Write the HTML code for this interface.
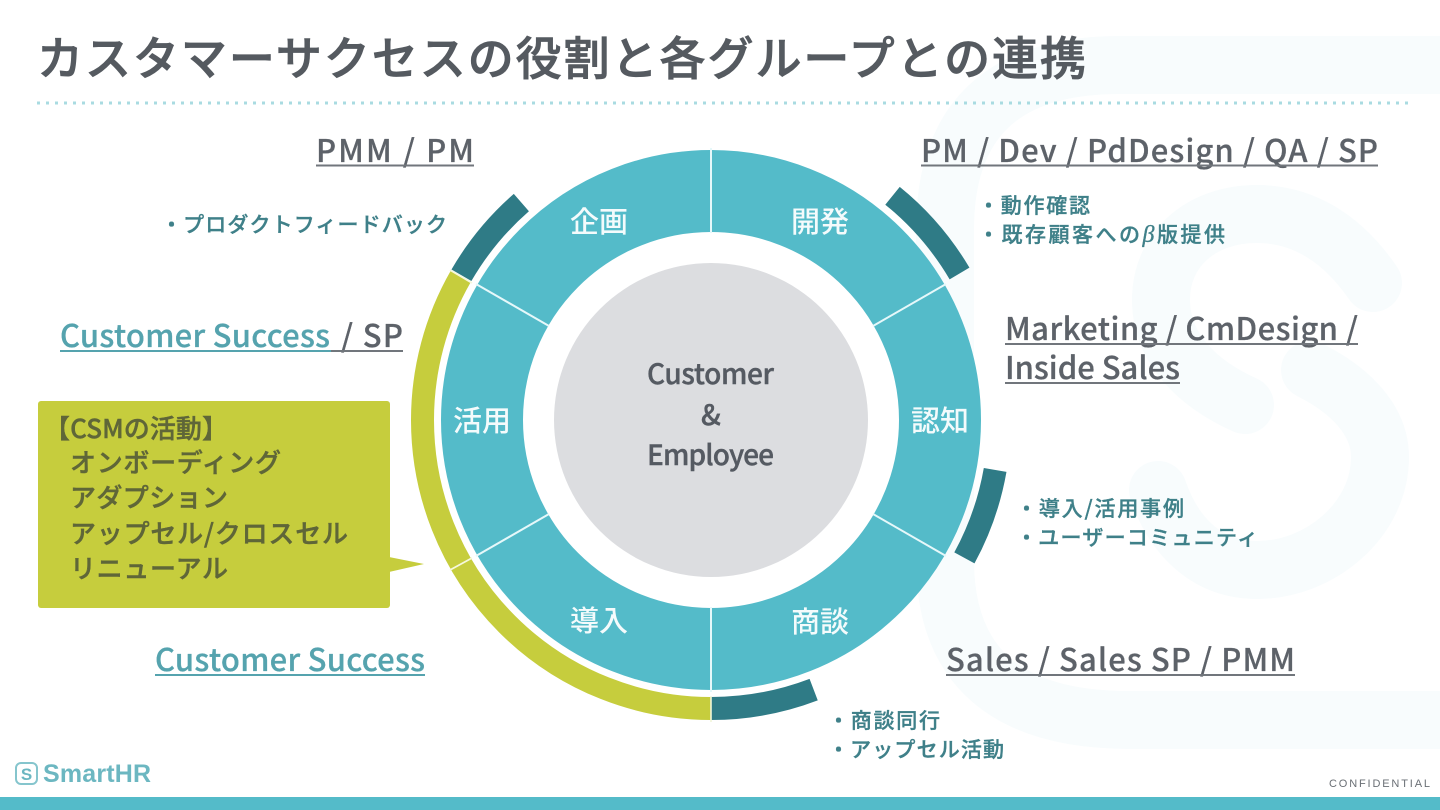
<!DOCTYPE html>
<html lang="ja"><head><meta charset="utf-8"><title>カスタマーサクセスの役割と各グループとの連携</title>
<style>
html,body{margin:0;padding:0;background:#fff;width:1440px;height:810px;overflow:hidden}
svg{display:block;filter:blur(.3px)}
text{font-family:"Liberation Sans","Noto Sans CJK JP",sans-serif}
.j{font-family:"Noto Sans CJK JP","Liberation Sans",sans-serif}
.h{font-family:"Noto Sans CJK JP","Liberation Sans",sans-serif;font-size:31px;font-weight:500;fill:#5d6269;stroke:#5d6269;stroke-width:.25px}
.s{font-family:"Noto Sans CJK JP","Liberation Sans",sans-serif;font-size:21px;font-weight:500;fill:#3f8089;stroke:#3f8089;stroke-width:.35px}
.w{font-family:"Noto Sans CJK JP",sans-serif;font-size:29px;font-weight:500;fill:#f4fbfc;text-anchor:middle}
.m{font-family:"Noto Sans CJK JP","Liberation Sans",sans-serif;font-size:28px;font-weight:500;fill:#555a62;stroke:#555a62;stroke-width:.4px}
.b{font-family:"Noto Sans CJK JP","Liberation Sans",sans-serif;font-size:26px;font-weight:500;fill:#5f6638;stroke:#5f6638;stroke-width:.45px}
</style></head><body>
<svg xmlns="http://www.w3.org/2000/svg" width="1440" height="810" viewBox="0 0 1440 810">
<rect width="1440" height="810" fill="#fff"/>
<!-- watermark -->
<g fill="none" stroke="#f8fcfd" stroke-linecap="round" stroke-linejoin="round">
<path d="M1480 65 H1120 Q945 65 945 230 V560 Q945 720 1130 720 H1480" stroke-width="58"/>
<path d="M1373 283 C1340 235 1300 214 1257 214 C1200 214 1161 250 1161 300 C1161 350 1200 385 1245 405" stroke-width="58"/>
<path d="M1310 370 C1350 390 1380 420 1380 457 C1380 520 1320 570 1257 570 C1210 570 1175 540 1158 490" stroke-width="58"/>
</g>
<!-- title -->
<text class="j" x="37" y="75" font-size="46" font-weight="500" fill="#555a60" stroke="#555a60" stroke-width=".8" textLength="1049" lengthAdjust="spacing">カスタマーサクセスの役割と各グループとの連携</text>
<line x1="37" y1="103" x2="1410" y2="103" stroke="#a9dbe1" stroke-width="3" stroke-dasharray="3 6"/>
<!-- diagram -->
<circle cx="711" cy="420" r="229" fill="none" stroke="#54bbc9" stroke-width="82"/>
<circle cx="711" cy="420" r="157" fill="#dcdde0"/>
<g stroke="#e6f8fa" stroke-width="2">
<line x1="711" y1="148" x2="711" y2="233"/>
<line x1="711" y1="607" x2="711" y2="692"/>
<line x1="476" y1="284" x2="549" y2="326"/>
<line x1="946" y1="284" x2="873" y2="326"/>
<line x1="476" y1="556" x2="549" y2="514"/>
<line x1="946" y1="556" x2="873" y2="514"/>
</g>
<g fill="none" stroke-width="23" transform="rotate(-90 711 420)">
<circle cx="711" cy="420" r="288.500" pathLength="360" stroke="#c6cd3d" stroke-dasharray="120 240" stroke-dashoffset="-180"/>
<circle cx="711" cy="420" r="288.500" pathLength="360" stroke="#2f7b86" stroke-dasharray="18.8 341.2" stroke-dashoffset="-300.2"/>
<circle cx="711" cy="420" r="288.500" pathLength="360" stroke="#2f7b86" stroke-dasharray="20.5 339.5" stroke-dashoffset="-39"/>
<circle cx="711" cy="420" r="288.500" pathLength="360" stroke="#2f7b86" stroke-dasharray="18.6 341.4" stroke-dashoffset="-100"/>
<circle cx="711" cy="420" r="288.500" pathLength="360" stroke="#2f7b86" stroke-dasharray="20.8 339.2" stroke-dashoffset="-159.2"/>
</g>
<line x1="711" y1="696" x2="711" y2="722" stroke="#f2f6d8" stroke-width="1.6"/>
<line x1="450" y1="570" x2="472" y2="558" stroke="#f6f8dc" stroke-width="1.8"/>
<line x1="450" y1="270" x2="472" y2="283" stroke="#f6f8dc" stroke-width="1.8"/>
<g>
<text class="w" x="599" y="232">企画</text>
<text class="w" x="820" y="232">開発</text>
<text class="w" x="940" y="431">認知</text>
<text class="w" x="820" y="632">商談</text>
<text class="w" x="599" y="631">導入</text>
<text class="w" x="482" y="431">活用</text>
</g>
<text class="m" x="647" y="384" textLength="127" lengthAdjust="spacing">Customer</text>
<text class="m" x="701" y="425">&amp;</text>
<text class="m" x="647" y="465" textLength="127" lengthAdjust="spacing">Employee</text>
<!-- headings -->
<text class="h" x="316" y="162" textLength="158" lengthAdjust="spacing">PMM / PM</text>
<line x1="316" y1="165.500" x2="474" y2="165.500" stroke="#71767c" stroke-width="2"/>
<text class="h" x="921" y="162" textLength="457" lengthAdjust="spacing">PM / Dev / PdDesign / QA / SP</text>
<line x1="921" y1="165.500" x2="1378" y2="165.500" stroke="#71767c" stroke-width="2"/>
<text class="h" x="60" y="347" textLength="270" lengthAdjust="spacing" style="fill:#55a3ae;stroke:#55a3ae">Customer Success</text>
<line x1="60" y1="351" x2="331" y2="351" stroke="#55a3ae" stroke-width="2"/>
<text class="h" x="341" y="347" textLength="62" lengthAdjust="spacing">/ SP</text>
<line x1="331" y1="351" x2="403" y2="351" stroke="#71767c" stroke-width="2"/>
<text class="h" x="1005" y="340" textLength="353" lengthAdjust="spacing">Marketing / CmDesign /</text>
<line x1="1005" y1="344" x2="1358" y2="344" stroke="#71767c" stroke-width="2"/>
<text class="h" x="1005" y="379" textLength="175" lengthAdjust="spacing">Inside Sales</text>
<line x1="1005" y1="383" x2="1180" y2="383" stroke="#71767c" stroke-width="2"/>
<text class="h" style="fill:#55a3ae;stroke:#55a3ae" x="155" y="671" textLength="270" lengthAdjust="spacing">Customer Success</text>
<line x1="155" y1="675" x2="425" y2="675" stroke="#55a3ae" stroke-width="2"/>
<text class="h" x="946" y="671" textLength="349" lengthAdjust="spacing">Sales / Sales SP / PMM</text>
<line x1="946" y1="675" x2="1295" y2="675" stroke="#71767c" stroke-width="2"/>
<!-- small notes -->
<text class="s" x="161" y="232" textLength="286" lengthAdjust="spacing">・プロダクトフィードバック</text>
<text class="s" x="978" y="213" textLength="112" lengthAdjust="spacing">・動作確認</text>
<text class="s" x="978" y="242" textLength="247" lengthAdjust="spacing">・既存顧客への<tspan font-family="Liberation Serif" font-style="italic" font-size="24">β</tspan>版提供</text>
<text class="s" x="1016" y="516" textLength="168" lengthAdjust="spacing">・導入/活用事例</text>
<text class="s" x="1016" y="545" textLength="242" lengthAdjust="spacing">・ユーザーコミュニティ</text>
<text class="s" x="828" y="728" textLength="112" lengthAdjust="spacing">・商談同行</text>
<text class="s" x="828" y="757" textLength="176" lengthAdjust="spacing">・アップセル活動</text>
<!-- callout -->
<rect x="38" y="401" width="352" height="207" rx="3" fill="#c6cd3d"/>
<polygon points="389,557 424,564 389,572" fill="#c6cd3d"/>
<text class="b" x="44" y="438" textLength="184" lengthAdjust="spacing">【CSMの活動】</text>
<text class="b" x="70" y="472" textLength="211" lengthAdjust="spacing">オンボーディング</text>
<text class="b" x="70" y="507" textLength="158" lengthAdjust="spacing">アダプション</text>
<text class="b" x="70" y="543" textLength="278" lengthAdjust="spacing">アップセル/クロスセル</text>
<text class="b" x="70" y="578" textLength="158" lengthAdjust="spacing">リニューアル</text>
<!-- footer -->
<rect x="0" y="797" width="1440" height="13" fill="#54bbc9"/>
<rect x="16" y="763" width="21" height="21" rx="5" fill="none" stroke="#85c5cd" stroke-width="2"/>
<text x="26.500" y="780" font-size="17" font-weight="700" fill="#6cb7c1" text-anchor="middle">S</text>
<text x="43" y="782" font-size="25" font-weight="700" fill="#6cb7c1" textLength="108" lengthAdjust="spacing">SmartHR</text>
<text x="1329" y="787" font-size="11" fill="#6a6f75" textLength="101" lengthAdjust="spacing">CONFIDENTIAL</text>
</svg>
</body></html>
